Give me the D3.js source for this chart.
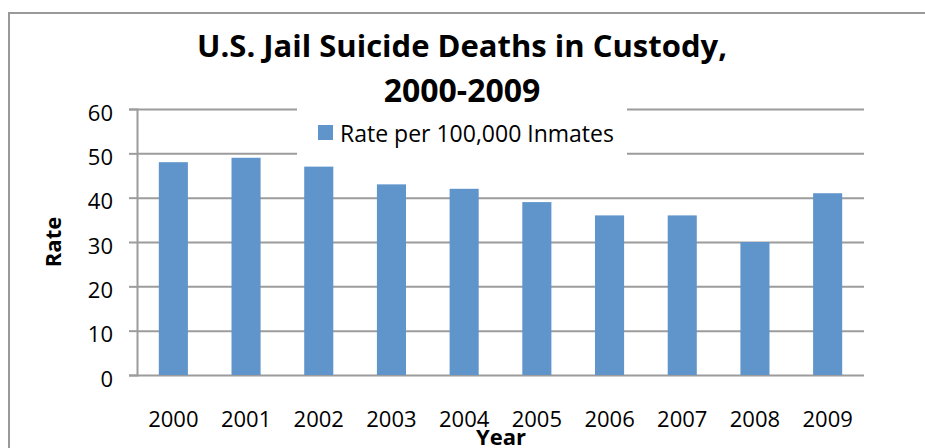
<!DOCTYPE html>
<html>
<head>
<meta charset="utf-8">
<script src="https://cdn.jsdelivr.net/npm/d3@7"></script>
<style>
  body { margin:0; background:#fff; }
  svg { display:block; font-family:'Open Sans', sans-serif; }
</style>
</head>
<body>
<script>
var years = ['2000','2001','2002','2003','2004','2005','2006','2007','2008','2009'];
var rates = [48, 49, 47, 43, 42, 39, 36, 36, 30, 41];
var yTicks = [0, 10, 20, 30, 40, 50, 60];
var titleLines = ['U.S. Jail Suicide Deaths in Custody,', '2000-2009'];
var seriesName = 'Rate per 100,000 Inmates';

var W = 925, H = 448;
var plotL = 137, plotR = 864, plotT = 109, plotB = 375;
var barColor = '#5f95cb', gridColor = '#9c9c9c';

var svg = d3.select('body').append('svg').attr('width', W).attr('height', H);

// outer chart frame (runs off the right and bottom of the picture)
svg.append('rect').attr('x', 9).attr('y', 13).attr('width', 940).attr('height', 460)
  .style('fill', 'none').style('stroke', '#999').style('stroke-width', 2);

var x = d3.scaleBand().domain(years).range([plotL, plotR]).paddingInner(0.6).paddingOuter(0.3);
var y = d3.scaleLinear().domain([0, 60]).range([plotB, plotT]);

// gridlines + y axis ticks
var yAxis = svg.append('g').attr('transform', 'translate(' + plotL + ',0)')
  .call(d3.axisLeft(y).tickValues(yTicks).tickSize(8).tickPadding(16));
yAxis.select('.domain').attr('stroke', gridColor).attr('stroke-width', 2);
yAxis.selectAll('.tick line').attr('stroke', gridColor).attr('stroke-width', 2);
yAxis.selectAll('.tick').append('line').attr('x1', 0).attr('x2', plotR - plotL)
  .attr('stroke', gridColor).attr('stroke-width', 2);
yAxis.selectAll('text').style('font-size', '22px').style('fill', '#000')
  .style('font-family', "'Open Sans', sans-serif").attr('dy', '0.5em');

// legend box sits over the top gridlines
svg.append('rect').attr('x', 297).attr('y', 103).attr('width', 330).attr('height', 58).style('fill', '#fff');
svg.append('rect').attr('x', 318).attr('y', 125).attr('width', 15).attr('height', 15).style('fill', barColor);
svg.append('text').attr('x', 340).attr('y', 142).style('font-size', '23px').text(seriesName);

// bars
svg.selectAll('.bar').data(rates).enter().append('rect').attr('class', 'bar')
  .attr('x', function(d, i){ return x(years[i]); })
  .attr('width', x.bandwidth())
  .attr('y', function(d){ return y(d); })
  .attr('height', function(d){ return y(0) - y(d); })
  .style('fill', barColor);

// x axis labels
var xAxis = svg.append('g').attr('transform', 'translate(0,' + plotB + ')')
  .call(d3.axisBottom(x).tickSize(0).tickPadding(36));
xAxis.select('.domain').remove();
xAxis.selectAll('text').style('font-size', '22px').style('fill', '#000')
  .style('font-family', "'Open Sans', sans-serif");

// titles
svg.selectAll('.title').data(titleLines).enter().append('text').attr('class', 'title')
  .attr('x', 462).attr('y', function(d, i){ return 57 + i * 45; })
  .attr('text-anchor', 'middle').style('font-weight', 'bold')
  .style('font-size', function(d, i){ return i == 0 ? '31px' : '32px'; })
  .text(function(d){ return d; });

svg.append('text').attr('x', 501).attr('y', 445).attr('text-anchor', 'middle')
  .style('font-size', '22px').style('font-weight', 'bold').text('Year');

svg.append('text').attr('transform', 'translate(61,242) rotate(-90)').attr('text-anchor', 'middle')
  .style('font-size', '22px').style('font-weight', 'bold').text('Rate');
</script>
</body>
</html>
